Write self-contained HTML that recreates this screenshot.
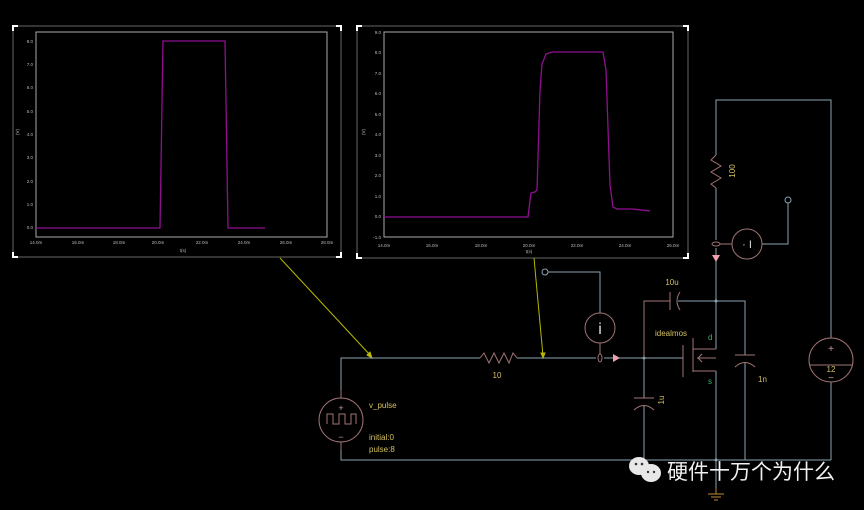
<!DOCTYPE html>
<html><head><meta charset="utf-8"><style>
html,body{margin:0;padding:0;background:#000;}
svg{display:block;}
text{font-family:"Liberation Sans",sans-serif;}
</style></head><body>
<svg width="864" height="510" viewBox="0 0 864 510" xmlns="http://www.w3.org/2000/svg">
<rect width="864" height="510" fill="#000"/>
<!-- Plot 1 -->
<g>
<rect x="13" y="26" width="328" height="231" fill="none" stroke="#666" stroke-width="1"/>
<path d="M13,31V26H18 M336,26H341V31 M13,252V257H18 M336,257H341V252" stroke="#fff" stroke-width="2" fill="none"/>
<rect x="36" y="32" width="291" height="205" fill="none" stroke="#aaa" stroke-width="1"/>
<g font-size="4.5" fill="#bbb" text-anchor="end">
<text x="33" y="43">8.0</text><text x="33" y="66">7.0</text><text x="33" y="89">6.0</text><text x="33" y="113">5.0</text><text x="33" y="136">4.0</text><text x="33" y="159">3.0</text><text x="33" y="183">2.0</text><text x="33" y="206">1.0</text><text x="33" y="229">0.0</text>
</g>
<g font-size="4.5" fill="#bbb" text-anchor="middle">
<text x="36" y="244">14.0m</text><text x="78" y="244">16.0m</text><text x="119" y="244">18.0m</text><text x="158" y="244">20.0m</text><text x="202" y="244">22.0m</text><text x="244" y="244">24.0m</text><text x="286" y="244">26.0m</text><text x="327" y="244">28.0m</text><text x="183" y="252">t(s)</text>
</g>
<text x="19" y="135" font-size="4.5" fill="#bbb" transform="rotate(-90 19 135)">(V)</text>
<polyline points="36,228 160,228 163,41 225,41 228,228 265,228" fill="none" stroke="#90108f" stroke-width="1.3"/>
</g>
<!-- Plot 2 -->
<g>
<rect x="357" y="26" width="331" height="232" fill="none" stroke="#666" stroke-width="1"/>
<path d="M357,31V26H362 M683,26H688V31 M357,253V258H362 M683,258H688V253" stroke="#fff" stroke-width="2" fill="none"/>
<rect x="384" y="32" width="289" height="205" fill="none" stroke="#aaa" stroke-width="1"/>
<g font-size="4.5" fill="#bbb" text-anchor="end">
<text x="381" y="34">9.0</text><text x="381" y="54">8.0</text><text x="381" y="75">7.0</text><text x="381" y="95">6.0</text><text x="381" y="116">5.0</text><text x="381" y="136">4.0</text><text x="381" y="157">3.0</text><text x="381" y="177">2.0</text><text x="381" y="198">1.0</text><text x="381" y="218">0.0</text><text x="381" y="239">-1.0</text>
</g>
<g font-size="4.5" fill="#bbb" text-anchor="middle">
<text x="384" y="247">14.0m</text><text x="432" y="247">16.0m</text><text x="481" y="247">18.0m</text><text x="529" y="247">20.0m</text><text x="577" y="247">22.0m</text><text x="625" y="247">24.0m</text><text x="673" y="247">26.0m</text><text x="529" y="253">t(s)</text>
</g>
<text x="365" y="135" font-size="4.5" fill="#bbb" transform="rotate(-90 365 135)">(V)</text>
<path d="M384,217 L528,217 L531,193 L535,192 L537,190 L540,90 L542,64 L546,54 L552,52 L603,52 L606,70 L610,185 L613,207 L617,209 L632,209 L650,211" fill="none" stroke="#90108f" stroke-width="1.3"/>
</g>
<!-- yellow probe arrows -->
<g stroke="#b8b800" stroke-width="1" fill="#b8b800">
<line x1="280" y1="258" x2="371" y2="356"/><polygon points="372,358 367,355 370,352"/>
<line x1="534" y1="258" x2="543" y2="356"/><polygon points="543,358 541,353 545,353"/>
</g>
<!-- wires -->
<g stroke="#8aa3b3" stroke-width="1" fill="none">
<polyline points="341,398 341,358 480,358"/>
<line x1="517" y1="358" x2="596" y2="358"/>
<line x1="604" y1="358" x2="683" y2="358"/>
<polyline points="341,442 341,460 831,460"/>
<line x1="644" y1="358" x2="644" y2="398"/>
<line x1="644" y1="406" x2="644" y2="460"/>
<polyline points="600,313 600,272 548,272"/>
<circle cx="545" cy="272" r="3"/>
<polyline points="716,155 716,100 831,100 831,338"/>
<line x1="831" y1="382" x2="831" y2="460"/>
<line x1="716" y1="188" x2="716" y2="240"/>
<line x1="716" y1="248" x2="716" y2="349"/>
<line x1="716" y1="371" x2="716" y2="490"/>
<polyline points="678,301 745,301 745,355"/>
<line x1="745" y1="363" x2="745" y2="460"/>
<polyline points="762,244 788,244 788,203"/>
<circle cx="788" cy="200" r="3"/>
</g>
<g fill="#8aa3b3"><circle cx="644" cy="358" r="1.5"/><circle cx="716" cy="301" r="1.5"/><circle cx="716" cy="460" r="1.5"/></g>
<!-- components -->
<g stroke="#a07474" stroke-width="1" fill="none">
<circle cx="341" cy="420" r="22"/>
<line x1="341" y1="398" x2="341" y2="390"/><line x1="341" y1="442" x2="341" y2="450"/>
<path d="M327,424 V414 H333 V424 H339 V414 H345 V424 H351 V414 H356 V424"/>
<path d="M480,358 L484,353 L489,363 L494,353 L499,363 L504,353 L509,363 L513,353 L517,358"/>
<circle cx="600" cy="328" r="15"/>
<line x1="600" y1="343" x2="600" y2="354"/>
<ellipse cx="600" cy="358" rx="2" ry="4"/>
<path d="M716,155 L711,160 L721,166 L711,172 L721,178 L711,184 L716,188"/>
<ellipse cx="716" cy="244" rx="4" ry="2"/>
<circle cx="747" cy="244" r="15"/>
<line x1="720" y1="244" x2="732" y2="244"/>
<polyline points="644,358 644,301 670,301"/>
<line x1="670" y1="292" x2="670" y2="310"/>
<path d="M680,292 Q674,301 680,310"/>
<line x1="683" y1="345" x2="683" y2="377"/>
<line x1="693" y1="338" x2="693" y2="372"/>
<polyline points="693,349 716,349"/>
<polyline points="693,371 716,371"/>
<line x1="697" y1="358" x2="716" y2="358"/>
<path d="M702,354 L698,358 L702,362"/>
<line x1="735" y1="355" x2="755" y2="355"/>
<path d="M735,367 Q745,358 755,367"/>
<line x1="634" y1="398" x2="654" y2="398"/>
<path d="M634,410 Q644,401 654,410"/>
<circle cx="831" cy="360" r="22"/>
<line x1="809" y1="365" x2="853" y2="365"/>
</g>
<polygon points="613,354 613,362 620,358" fill="#f0a0b0"/>
<polygon points="712,255 720,255 716,262" fill="#f0a0b0"/>
<g fill="#c0a0a0" font-size="9" text-anchor="middle">
<text x="341" y="411">+</text><text x="341" y="440">−</text>
<text x="831" y="352" font-size="10">+</text><text x="831" y="381" font-size="10">−</text>
</g>
<text x="600" y="334" font-size="16" fill="#ddd" text-anchor="middle" font-family="Liberation Serif">i</text>
<text x="747" y="248" font-size="11" fill="#ddd" text-anchor="middle">· I</text>
<!-- ground -->
<g stroke="#c08a30" stroke-width="1"><line x1="708" y1="494" x2="724" y2="494"/><line x1="711" y1="497" x2="721" y2="497"/><line x1="714" y1="500" x2="718" y2="500"/><line x1="716" y1="488" x2="716" y2="494"/></g>
<!-- labels -->
<g fill="#d4c060" font-size="8">
<text x="369" y="408">v_pulse</text>
<text x="369" y="440">initial:0</text>
<text x="369" y="452">pulse:8</text>
<text x="497" y="378" text-anchor="middle">10</text>
<text x="672" y="285" text-anchor="middle">10u</text>
<text x="655" y="336">idealmos</text>
<text x="758" y="382">1n</text>
<text x="831" y="372" text-anchor="middle">12</text>
<text x="735" y="171" transform="rotate(-90 735 171)" text-anchor="middle">100</text>
<text x="664" y="400" transform="rotate(-90 664 400)" text-anchor="middle">1u</text>
</g>
<g fill="#40b060" font-size="8"><text x="708" y="340">d</text><text x="708" y="384">s</text></g>
<!-- watermark -->
<g fill="#e8e8e8">
<ellipse cx="639" cy="466" rx="10" ry="9"/>
<ellipse cx="651" cy="473" rx="10" ry="9"/>
</g>
<g fill="#333"><circle cx="636" cy="464" r="1.3"/><circle cx="642" cy="464" r="1.3"/><circle cx="648" cy="472" r="1.2"/><circle cx="654" cy="472" r="1.2"/></g>
<text x="667" y="479" font-size="21" fill="#f0f0f0" font-family="'Liberation Sans','Noto Sans CJK SC',sans-serif">硬件十万个为什么</text>
</svg>
</body></html>
